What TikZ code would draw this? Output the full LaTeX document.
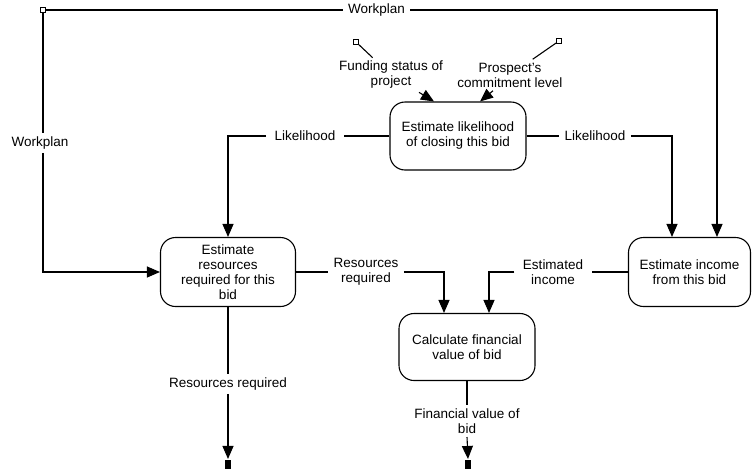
\documentclass[tikz,border=0pt]{standalone}
\usepackage{fontspec}
\setmainfont{Liberation Sans}
\usetikzlibrary{arrows.meta}
\tikzset{
  proc/.style={draw, rounded corners=15pt, align=center, inner sep=2pt},
  lbl/.style={align=center, inner xsep=5pt, inner ysep=3pt},
  arr/.style={-{Triangle[length=13pt,width=11pt]}},
  opensq/.style={draw, fill=white, minimum size=5pt, inner sep=0pt, line width=0.8pt},
  endsq/.style={fill, minimum width=6pt, minimum height=9pt, inner sep=0pt},
}
\begin{document}
\begin{tikzpicture}[x=1pt, y=-1pt, line width=1.1pt, font=\fontsize{13.5}{15}\selectfont]
\useasboundingbox (0,0) rectangle (752,469);
\node[proc, minimum width=136pt, minimum height=68pt] (lik) at (458,136) {Estimate likelihood\\of closing this bid};
\node[proc, minimum width=135pt, minimum height=69pt] (res) at (228,272) {Estimate\\resources\\required for this\\bid};
\node[proc, minimum width=122pt, minimum height=69pt] (inc) at (689.5,272) {Estimate income\\from this bid};
\node[proc, minimum width=136pt, minimum height=67pt] (calc) at (467,347) {Calculate financial\\value of bid};
\node[opensq] (wpc) at (43,10) {};
\node[lbl] (wpt) at (376.5,10) {Workplan};
\node[lbl] (wpl) at (40,143) {Workplan};
\node[opensq] (fsq) at (356,42) {};
\node[lbl] (fund) at (391,75) {Funding status of\\project};
\node[opensq] (psq) at (559,41) {};
\node[lbl] (pros) at (510,75) {Prospect's\\commitment level};
\node[lbl, inner xsep=8pt] (lkl) at (305,136) {Likelihood};
\node[lbl] (lkr) at (595,136) {Likelihood};
\node[lbl] (rrq) at (366,272) {Resources\\required};
\node[lbl, inner xsep=8pt] (einc) at (553,272) {Estimated\\income};
\node[lbl] (rout) at (228,384) {Resources required};
\node[lbl] (fout) at (467,421) {Financial value of\\bid};
\node[endsq] (rend) at (228,464) {};
\node[endsq] (fend) at (468,464) {};
\draw (wpc) -- (wpt);
\draw[arr] (wpt) -| ([xshift=27.5pt]inc.north);
\draw (wpc) -- (wpc |- wpl.north);
\draw[arr] (wpc |- wpl.south) |- (res.west);
\draw (fsq) -- (fund);
\draw[arr] ([xshift=28pt]fund.south) -- ([xshift=-24pt]lik.north);
\draw (psq) -- (pros);
\draw[arr] ([xshift=-17pt]pros.south) -- ([xshift=22pt]lik.north);
\draw (lik.west) -- (lkl.east);
\draw[arr] (lkl.west) -| (res.north);
\draw (lik.east) -- (lkr.west);
\draw[arr] (lkr.east) -| ([xshift=-17.5pt]inc.north);
\draw (res.east) -- (rrq.west);
\draw[arr] (rrq.east) -| ([xshift=-23pt]calc.north);
\draw (inc.west) -- (einc.east);
\draw[arr] (einc.west) -| ([xshift=22pt]calc.north);
\draw (res.south) -- (rout.north);
\draw[arr] (rout.south) -- (rend.north);
\draw (calc.south) -- (fout.north);
\draw[arr] (fout.south) -- (fend.north);
\end{tikzpicture}
\end{document}
